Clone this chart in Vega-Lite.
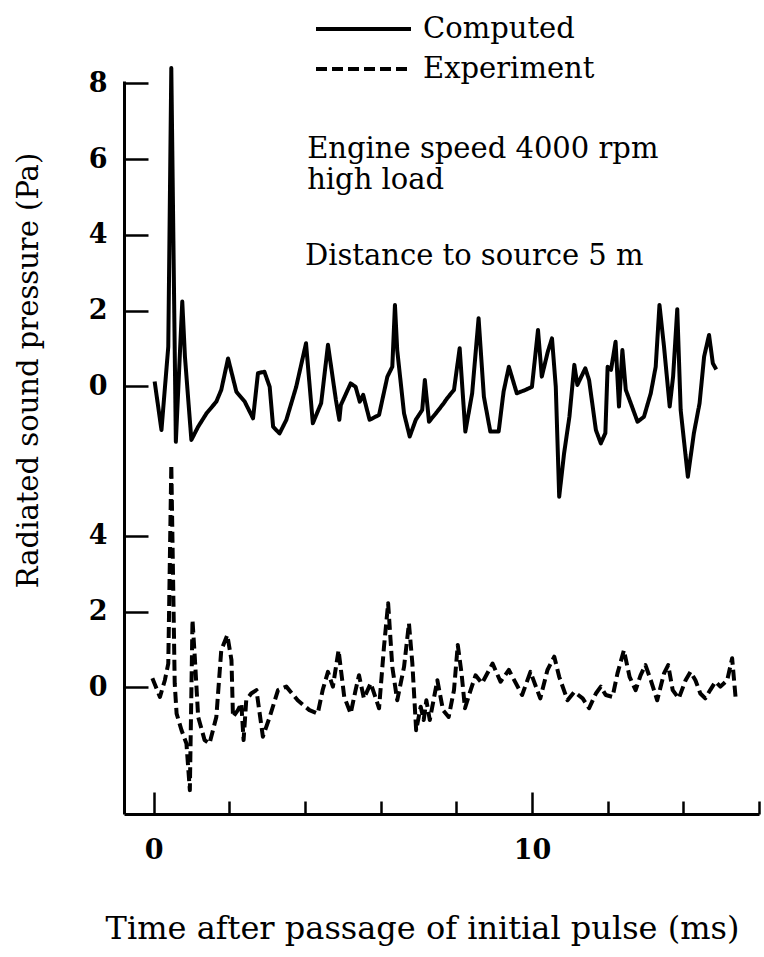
{
  "$schema": "https://vega.github.io/schema/vega-lite/v6.json",
  "width": 635,
  "height": 733,
  "autosize": {"type": "none"},
  "padding": {"left": 124, "top": 81, "right": 5, "bottom": 143},
  "background": "white",
  "datasets": {
    "computed": [
      {"series": "Computed", "t": 0.03, "p": 0.13},
      {"series": "Computed", "t": 0.21, "p": -1.15},
      {"series": "Computed", "t": 0.39, "p": 1.05},
      {"series": "Computed", "t": 0.47, "p": 8.4},
      {"series": "Computed", "t": 0.59, "p": -1.46},
      {"series": "Computed", "t": 0.76, "p": 2.24},
      {"series": "Computed", "t": 0.83, "p": 0.79},
      {"series": "Computed", "t": 1.0, "p": -1.41},
      {"series": "Computed", "t": 1.18, "p": -1.06},
      {"series": "Computed", "t": 1.4, "p": -0.71},
      {"series": "Computed", "t": 1.66, "p": -0.4},
      {"series": "Computed", "t": 1.79, "p": -0.09},
      {"series": "Computed", "t": 1.97, "p": 0.74},
      {"series": "Computed", "t": 2.19, "p": -0.14},
      {"series": "Computed", "t": 2.41, "p": -0.4},
      {"series": "Computed", "t": 2.63, "p": -0.84},
      {"series": "Computed", "t": 2.76, "p": 0.35},
      {"series": "Computed", "t": 2.93, "p": 0.39},
      {"series": "Computed", "t": 3.07, "p": -0.01},
      {"series": "Computed", "t": 3.16, "p": -1.06},
      {"series": "Computed", "t": 3.33, "p": -1.24},
      {"series": "Computed", "t": 3.51, "p": -0.88},
      {"series": "Computed", "t": 3.77, "p": -0.01},
      {"series": "Computed", "t": 4.03, "p": 1.14},
      {"series": "Computed", "t": 4.21, "p": -0.97},
      {"series": "Computed", "t": 4.43, "p": -0.44},
      {"series": "Computed", "t": 4.61, "p": 1.1},
      {"series": "Computed", "t": 4.82, "p": -0.36},
      {"series": "Computed", "t": 4.91, "p": -0.88},
      {"series": "Computed", "t": 4.95, "p": -0.49},
      {"series": "Computed", "t": 5.21, "p": 0.08},
      {"series": "Computed", "t": 5.34, "p": -0.01},
      {"series": "Computed", "t": 5.45, "p": -0.4},
      {"series": "Computed", "t": 5.54, "p": -0.22},
      {"series": "Computed", "t": 5.71, "p": -0.88},
      {"series": "Computed", "t": 5.96, "p": -0.75},
      {"series": "Computed", "t": 6.18, "p": 0.26},
      {"series": "Computed", "t": 6.31, "p": 0.52},
      {"series": "Computed", "t": 6.38, "p": 2.15},
      {"series": "Computed", "t": 6.44, "p": 0.96},
      {"series": "Computed", "t": 6.62, "p": -0.71},
      {"series": "Computed", "t": 6.77, "p": -1.32},
      {"series": "Computed", "t": 6.93, "p": -0.88},
      {"series": "Computed", "t": 7.1, "p": -0.62},
      {"series": "Computed", "t": 7.17, "p": 0.17},
      {"series": "Computed", "t": 7.28, "p": -0.93},
      {"series": "Computed", "t": 7.5, "p": -0.66},
      {"series": "Computed", "t": 7.67, "p": -0.44},
      {"series": "Computed", "t": 7.76, "p": -0.31},
      {"series": "Computed", "t": 7.94, "p": -0.09},
      {"series": "Computed", "t": 8.09, "p": 1.01},
      {"series": "Computed", "t": 8.24, "p": -1.19},
      {"series": "Computed", "t": 8.42, "p": -0.18},
      {"series": "Computed", "t": 8.59, "p": 1.8},
      {"series": "Computed", "t": 8.73, "p": -0.27},
      {"series": "Computed", "t": 8.9, "p": -1.19},
      {"series": "Computed", "t": 9.12, "p": -1.19},
      {"series": "Computed", "t": 9.25, "p": -0.14},
      {"series": "Computed", "t": 9.39, "p": 0.52},
      {"series": "Computed", "t": 9.6, "p": -0.18},
      {"series": "Computed", "t": 9.83, "p": -0.09},
      {"series": "Computed", "t": 10.0, "p": -0.01},
      {"series": "Computed", "t": 10.16, "p": 1.49},
      {"series": "Computed", "t": 10.26, "p": 0.26},
      {"series": "Computed", "t": 10.42, "p": 0.92},
      {"series": "Computed", "t": 10.53, "p": 1.27},
      {"series": "Computed", "t": 10.63, "p": -0.01},
      {"series": "Computed", "t": 10.72, "p": -2.91},
      {"series": "Computed", "t": 10.85, "p": -1.76},
      {"series": "Computed", "t": 10.99, "p": -0.8},
      {"series": "Computed", "t": 11.12, "p": 0.57},
      {"series": "Computed", "t": 11.2, "p": 0.04},
      {"series": "Computed", "t": 11.41, "p": 0.48},
      {"series": "Computed", "t": 11.51, "p": 0.17},
      {"series": "Computed", "t": 11.69, "p": -1.15},
      {"series": "Computed", "t": 11.82, "p": -1.5},
      {"series": "Computed", "t": 11.94, "p": -1.23},
      {"series": "Computed", "t": 12.0, "p": 0.52},
      {"series": "Computed", "t": 12.09, "p": 0.44},
      {"series": "Computed", "t": 12.21, "p": 1.18},
      {"series": "Computed", "t": 12.3, "p": -0.53},
      {"series": "Computed", "t": 12.39, "p": 0.96},
      {"series": "Computed", "t": 12.48, "p": -0.09},
      {"series": "Computed", "t": 12.61, "p": -0.44},
      {"series": "Computed", "t": 12.79, "p": -0.93},
      {"series": "Computed", "t": 12.96, "p": -0.8},
      {"series": "Computed", "t": 13.14, "p": -0.18},
      {"series": "Computed", "t": 13.27, "p": 0.52},
      {"series": "Computed", "t": 13.37, "p": 2.15},
      {"series": "Computed", "t": 13.49, "p": 1.05},
      {"series": "Computed", "t": 13.64, "p": -0.53},
      {"series": "Computed", "t": 13.73, "p": 0.26},
      {"series": "Computed", "t": 13.84, "p": 2.04},
      {"series": "Computed", "t": 13.93, "p": -0.62},
      {"series": "Computed", "t": 14.12, "p": -2.38},
      {"series": "Computed", "t": 14.28, "p": -1.23},
      {"series": "Computed", "t": 14.43, "p": -0.44},
      {"series": "Computed", "t": 14.55, "p": 0.79},
      {"series": "Computed", "t": 14.68, "p": 1.36},
      {"series": "Computed", "t": 14.78, "p": 0.61},
      {"series": "Computed", "t": 14.87, "p": 0.45}
    ],
    "experiment": [
      {"series": "Experiment", "t": -0.03, "p": 0.24},
      {"series": "Experiment", "t": 0.17, "p": -0.25},
      {"series": "Experiment", "t": 0.3, "p": 0.19},
      {"series": "Experiment", "t": 0.39, "p": 0.63},
      {"series": "Experiment", "t": 0.47, "p": 5.87},
      {"series": "Experiment", "t": 0.56, "p": 0.11},
      {"series": "Experiment", "t": 0.61, "p": -0.69},
      {"series": "Experiment", "t": 0.74, "p": -1.13},
      {"series": "Experiment", "t": 0.87, "p": -1.48},
      {"series": "Experiment", "t": 0.96, "p": -2.71},
      {"series": "Experiment", "t": 1.03, "p": 1.78},
      {"series": "Experiment", "t": 1.09, "p": 0.81},
      {"series": "Experiment", "t": 1.18, "p": -0.78},
      {"series": "Experiment", "t": 1.35, "p": -1.39},
      {"series": "Experiment", "t": 1.48, "p": -1.48},
      {"series": "Experiment", "t": 1.66, "p": -0.78},
      {"series": "Experiment", "t": 1.79, "p": 0.98},
      {"series": "Experiment", "t": 1.95, "p": 1.38},
      {"series": "Experiment", "t": 2.06, "p": 0.72},
      {"series": "Experiment", "t": 2.1, "p": -0.78},
      {"series": "Experiment", "t": 2.23, "p": -0.6},
      {"series": "Experiment", "t": 2.32, "p": -0.42},
      {"series": "Experiment", "t": 2.38, "p": -1.39},
      {"series": "Experiment", "t": 2.45, "p": -0.34},
      {"series": "Experiment", "t": 2.58, "p": -0.16},
      {"series": "Experiment", "t": 2.72, "p": -0.07},
      {"series": "Experiment", "t": 2.89, "p": -1.3},
      {"series": "Experiment", "t": 3.07, "p": -0.78},
      {"series": "Experiment", "t": 3.29, "p": -0.07},
      {"series": "Experiment", "t": 3.51, "p": 0.02},
      {"series": "Experiment", "t": 3.81, "p": -0.34},
      {"series": "Experiment", "t": 4.12, "p": -0.6},
      {"series": "Experiment", "t": 4.34, "p": -0.69},
      {"series": "Experiment", "t": 4.47, "p": -0.07},
      {"series": "Experiment", "t": 4.61, "p": 0.41},
      {"series": "Experiment", "t": 4.74, "p": 0.02},
      {"series": "Experiment", "t": 4.89, "p": 0.98},
      {"series": "Experiment", "t": 5.04, "p": -0.25},
      {"series": "Experiment", "t": 5.21, "p": -0.69},
      {"series": "Experiment", "t": 5.34, "p": -0.07},
      {"series": "Experiment", "t": 5.43, "p": 0.32},
      {"series": "Experiment", "t": 5.56, "p": -0.29},
      {"series": "Experiment", "t": 5.74, "p": 0.11},
      {"series": "Experiment", "t": 5.96, "p": -0.55},
      {"series": "Experiment", "t": 6.09, "p": 1.07},
      {"series": "Experiment", "t": 6.2, "p": 2.22},
      {"series": "Experiment", "t": 6.31, "p": 0.54},
      {"series": "Experiment", "t": 6.44, "p": -0.34},
      {"series": "Experiment", "t": 6.62, "p": 0.54},
      {"series": "Experiment", "t": 6.75, "p": 1.69},
      {"series": "Experiment", "t": 6.84, "p": 0.63},
      {"series": "Experiment", "t": 6.94, "p": -1.13},
      {"series": "Experiment", "t": 7.06, "p": -0.51},
      {"series": "Experiment", "t": 7.14, "p": -0.86},
      {"series": "Experiment", "t": 7.21, "p": -0.34},
      {"series": "Experiment", "t": 7.3, "p": -0.86},
      {"series": "Experiment", "t": 7.5, "p": 0.19},
      {"series": "Experiment", "t": 7.65, "p": -0.6},
      {"series": "Experiment", "t": 7.8, "p": -0.78},
      {"series": "Experiment", "t": 7.94, "p": -0.07},
      {"series": "Experiment", "t": 8.04, "p": 1.12},
      {"series": "Experiment", "t": 8.14, "p": 0.37},
      {"series": "Experiment", "t": 8.23, "p": -0.55},
      {"series": "Experiment", "t": 8.38, "p": -0.07},
      {"series": "Experiment", "t": 8.51, "p": 0.32},
      {"series": "Experiment", "t": 8.68, "p": 0.11},
      {"series": "Experiment", "t": 8.96, "p": 0.63},
      {"series": "Experiment", "t": 9.17, "p": 0.15},
      {"series": "Experiment", "t": 9.39, "p": 0.46},
      {"series": "Experiment", "t": 9.74, "p": -0.2},
      {"series": "Experiment", "t": 9.96, "p": 0.41},
      {"series": "Experiment", "t": 10.22, "p": -0.29},
      {"series": "Experiment", "t": 10.41, "p": 0.46},
      {"series": "Experiment", "t": 10.59, "p": 0.81},
      {"series": "Experiment", "t": 10.72, "p": 0.28},
      {"series": "Experiment", "t": 10.94, "p": -0.34},
      {"series": "Experiment", "t": 11.12, "p": -0.12},
      {"series": "Experiment", "t": 11.34, "p": -0.29},
      {"series": "Experiment", "t": 11.51, "p": -0.55},
      {"series": "Experiment", "t": 11.69, "p": -0.16},
      {"series": "Experiment", "t": 11.82, "p": 0.02},
      {"series": "Experiment", "t": 11.95, "p": -0.2},
      {"series": "Experiment", "t": 12.13, "p": -0.25},
      {"series": "Experiment", "t": 12.26, "p": 0.37},
      {"series": "Experiment", "t": 12.43, "p": 0.98},
      {"series": "Experiment", "t": 12.58, "p": 0.28},
      {"series": "Experiment", "t": 12.74, "p": -0.07},
      {"series": "Experiment", "t": 12.87, "p": 0.32},
      {"series": "Experiment", "t": 13.0, "p": 0.59},
      {"series": "Experiment", "t": 13.14, "p": 0.19},
      {"series": "Experiment", "t": 13.31, "p": -0.34},
      {"series": "Experiment", "t": 13.49, "p": 0.37},
      {"series": "Experiment", "t": 13.6, "p": 0.59},
      {"series": "Experiment", "t": 13.72, "p": -0.07},
      {"series": "Experiment", "t": 13.88, "p": -0.29},
      {"series": "Experiment", "t": 14.06, "p": 0.19},
      {"series": "Experiment", "t": 14.19, "p": 0.41},
      {"series": "Experiment", "t": 14.32, "p": 0.19},
      {"series": "Experiment", "t": 14.45, "p": -0.16},
      {"series": "Experiment", "t": 14.58, "p": -0.29},
      {"series": "Experiment", "t": 14.71, "p": -0.07},
      {"series": "Experiment", "t": 14.85, "p": 0.15},
      {"series": "Experiment", "t": 14.98, "p": 0.02},
      {"series": "Experiment", "t": 15.16, "p": 0.19},
      {"series": "Experiment", "t": 15.29, "p": 0.77},
      {"series": "Experiment", "t": 15.38, "p": -0.25}
    ]
  },
  "layer": [
    {
      "layer": [
        {
          "data": {"name": "experiment"},
          "mark": {"type": "line", "color": "black", "strokeWidth": 4, "strokeJoin": "round", "strokeCap": "butt"},
          "encoding": {
            "x": {
              "field": "t", "type": "quantitative",
              "scale": {"domain": [-0.78, 16], "nice": false, "zero": false},
              "axis": {
                "values": [0, 2, 4, 6, 8, 10, 12, 14, 16],
                "labelExpr": "datum.value == 0 || datum.value == 10 ? datum.label : ''",
                "tickSize": {"condition": {"test": "datum.value == 0 || datum.value == 10", "value": -22}, "value": -13},
                "labelPadding": 45,
                "labelBaseline": "top",
                "labelFlush": false,
                "labelOverlap": false,
                "title": "Time after passage of initial pulse (ms)",
                "titleFontSize": 32,
                "titleX": 298,
                "titleY": 124,
                "titleAlign": "center",
                "titleBaseline": "alphabetic"
              }
            },
            "y": {
              "field": "p", "type": "quantitative",
              "scale": {"domain": [-3.34, 16.0], "nice": false, "zero": false},
              "axis": {
                "values": [0, 2, 4, 7.94, 9.94, 11.94, 13.94, 15.94],
                "labelExpr": "datum.value > 7 ? '' + round(datum.value - 7.94) : '' + round(datum.value)",
                "tickSize": -24,
                "labelPadding": 41,
                "labelBaseline": "middle",
                "labelFlush": false,
                "labelOverlap": false,
                "title": "Radiated sound pressure (Pa)",
                "titleFontSize": 29,
                "titleX": -87,
                "titleY": 289,
                "titleAngle": -90,
                "titleAlign": "center",
                "titleBaseline": "alphabetic"
              }
            },
            "strokeDash": {
              "field": "series", "type": "nominal",
              "scale": {"domain": ["Computed", "Experiment"], "range": [[1, 0], [11, 5]]},
              "legend": {
                "orient": "none",
                "legendX": 190,
                "legendY": -62,
                "title": null,
                "symbolType": "stroke",
                "symbolSize": 9025,
                "symbolStrokeWidth": 4,
                "symbolStrokeColor": "black",
                "labelFont": "DejaVu Serif",
                "labelFontSize": 29,
                "labelColor": "black",
                "labelLimit": 0,
                "labelOffset": 10,
                "rowPadding": 11,
                "clipHeight": 20,
                "padding": 0
              }
            }
          }
        },
        {
          "data": {"values": [{}]},
          "mark": {"type": "text", "font": "DejaVu Serif", "fontSize": 29, "align": "left", "baseline": "alphabetic", "color": "black"},
          "encoding": {
            "x": {"datum": 4.06},
            "y": {"datum": 13.97},
            "text": {"value": "Engine speed 4000 rpm"}
          }
        },
        {
          "data": {"values": [{}]},
          "mark": {"type": "text", "font": "DejaVu Serif", "fontSize": 29, "align": "left", "baseline": "alphabetic", "color": "black"},
          "encoding": {
            "x": {"datum": 4.06},
            "y": {"datum": 13.16},
            "text": {"value": "high load"}
          }
        },
        {
          "data": {"values": [{}]},
          "mark": {"type": "text", "font": "DejaVu Serif", "fontSize": 29, "align": "left", "baseline": "alphabetic", "color": "black"},
          "encoding": {
            "x": {"datum": 4.0},
            "y": {"datum": 11.14},
            "text": {"value": "Distance to source 5 m"}
          }
        }
      ]
    },
    {
      "data": {"name": "computed"},
      "mark": {"type": "line", "color": "black", "strokeWidth": 4, "strokeJoin": "round"},
      "encoding": {
        "x": {"field": "t", "type": "quantitative"},
        "y": {
          "field": "p", "type": "quantitative",
          "scale": {"domain": [-11.28, 8.06], "nice": false, "zero": false},
          "axis": null
        },
        "strokeDash": {"field": "series", "type": "nominal"}
      }
    }
  ],
  "resolve": {"scale": {"y": "independent"}},
  "config": {
    "view": {"stroke": null},
    "axis": {
      "grid": false,
      "domainColor": "black",
      "domainWidth": 3,
      "tickColor": "black",
      "tickWidth": 2.5,
      "labelColor": "black",
      "titleColor": "black",
      "labelFont": "DejaVu Serif",
      "titleFont": "DejaVu Serif",
      "labelFontSize": 27,
      "labelFontWeight": "bold",
      "titleFontWeight": "normal"
    }
  }
}
